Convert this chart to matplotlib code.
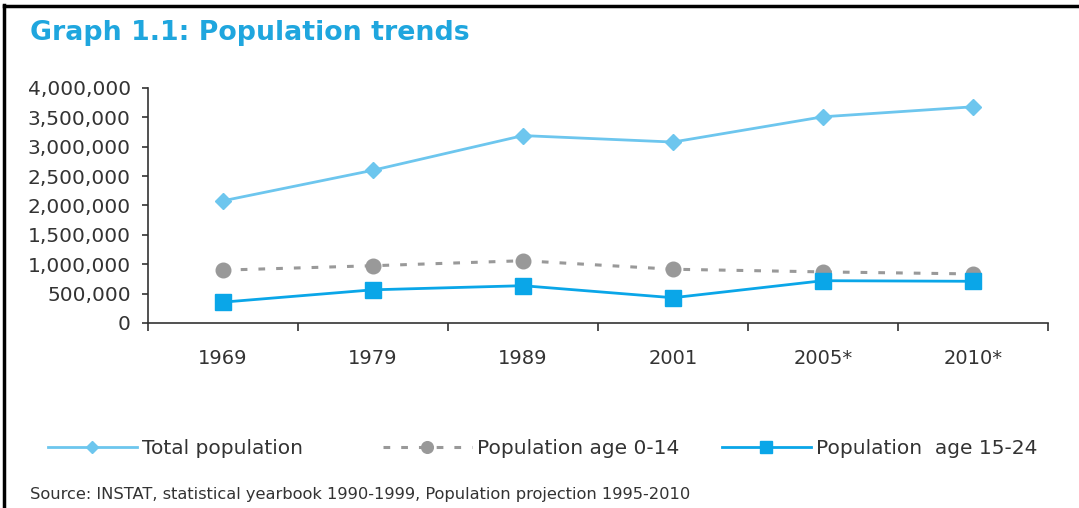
import matplotlib
matplotlib.use("Agg")
import matplotlib.pyplot as plt
from matplotlib.lines import Line2D
from matplotlib.ticker import FuncFormatter, FixedLocator

years = ["1969", "1979", "1989", "2001", "2005*", "2010*"]
total_population = [2080000, 2600000, 3190000, 3080000, 3510000, 3680000]
age_0_14 = [900000, 975000, 1060000, 915000, 870000, 835000]
age_15_24 = [355000, 565000, 635000, 430000, 720000, 710000]
series_labels = ["Total population", "Population age 0-14", "Population  age 15-24"]

c_total = "#6DC6EE"
c_child = "#999999"
c_youth = "#0AA6E8"
txt = "#333333"

plt.rcParams['font.family'] = ['DejaVu Sans']

fig = plt.figure(figsize=(10.79, 5.08), dpi=100)
ax = fig.add_axes([148/1079, 1-323/508, 900/1079, 235/508])

x = list(range(len(years)))
l1, = ax.plot(x, total_population, color=c_total, lw=2, marker='D', ms=8,
              mec=c_total, mfc=c_total, label=series_labels[0])
l2, = ax.plot(x, age_0_14, color=c_child, lw=2.2, ls=(0, (2.2, 3.6)), marker='o', ms=10.5,
              mec=c_child, mfc=c_child, label=series_labels[1])
l3, = ax.plot(x, age_15_24, color=c_youth, lw=2, marker='s', ms=11,
              mec=c_youth, mfc=c_youth, label=series_labels[2])

ax.set_xlim(-0.5, len(years) - 0.5)
ax.set_ylim(0, 4000000)
ax.set_yticks(range(0, 4000001, 500000))
ax.yaxis.set_major_formatter(FuncFormatter(lambda v, p: f"{int(v):,}"))
ax.xaxis.set_major_locator(FixedLocator([i - 0.5 for i in range(len(years) + 1)]))
ax.xaxis.set_major_formatter(FuncFormatter(lambda v, p: ""))
ax.set_xticks(x, minor=True)
ax.set_xticklabels(years, minor=True)
ax.tick_params(axis='x', which='major', direction='out', length=6, width=1.2, color='#333333')
ax.tick_params(axis='x', which='minor', length=0, pad=19, labelsize=14, labelcolor=txt)
ax.tick_params(axis='y', direction='out', length=4.5, width=1.2, color='#333333',
               labelsize=14.5, labelcolor=txt, pad=8)
for s in ['top', 'right']:
    ax.spines[s].set_visible(False)
for s in ['left', 'bottom']:
    ax.spines[s].set_color('#333333')
    ax.spines[s].set_linewidth(1.2)

fig.text(30/1079, 1-33/508, "Graph 1.1: Population trends", color="#1FA6DE",
         fontsize=19.3, fontweight='bold', va='center', ha='left')

leg_x = [48, 383, 722]
for h, lx in zip([l1, l2, l3], leg_x):
    fig.legend(handles=[h], loc='center left', bbox_to_anchor=(lx/1079, 1-449/508),
               frameon=False, fontsize=14.5, handlelength=4.4, handletextpad=0.25,
               borderpad=0, borderaxespad=0, markerscale=0.8, labelcolor=txt)

fig.text(30/1079, 1-494/508,
         "Source: INSTAT, statistical yearbook 1990-1999, Population projection 1995-2010",
         fontsize=11.7, color=txt, va='center', ha='left')

fig.add_artist(Line2D([4/1079, 4/1079], [0, 1-5/508], transform=fig.transFigure,
                      color='black', lw=2.5))
fig.add_artist(Line2D([4/1079, 1], [1-6/508, 1-6/508], transform=fig.transFigure,
                      color='black', lw=2.5))

fig.savefig("out.png", dpi=100)
